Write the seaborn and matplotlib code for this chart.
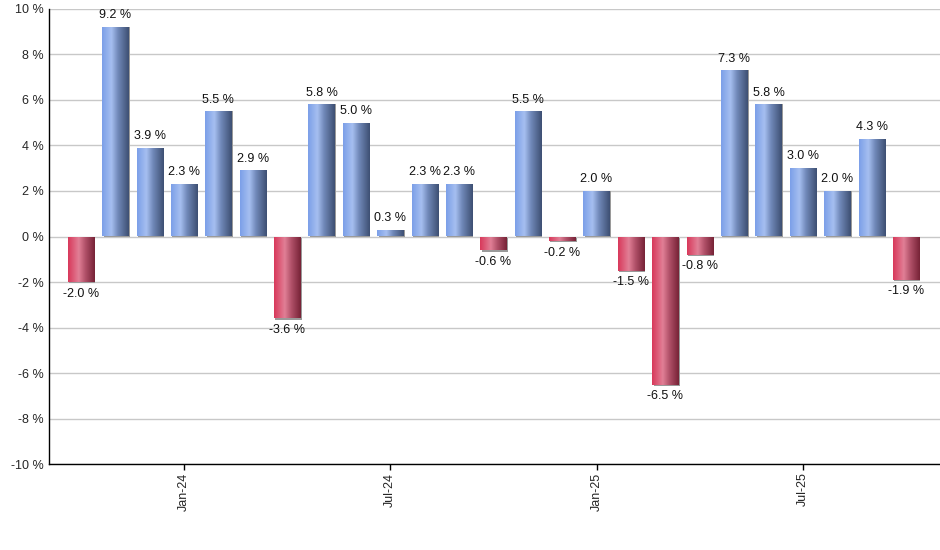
import numpy as np
import pandas as pd
import matplotlib
matplotlib.use("Agg")
import matplotlib.pyplot as plt
import seaborn as sns
from matplotlib.colors import LinearSegmentedColormap
from matplotlib.patches import Rectangle

months = ["Oct-23", "Nov-23", "Dec-23", "Jan-24", "Feb-24", "Mar-24", "Apr-24", "May-24",
          "Jun-24", "Jul-24", "Aug-24", "Sep-24", "Oct-24", "Nov-24", "Dec-24", "Jan-25",
          "Feb-25", "Mar-25", "Apr-25", "May-25", "Jun-25", "Jul-25", "Aug-25", "Sep-25",
          "Oct-25"]
values = [-2.0, 9.2, 3.9, 2.3, 5.5, 2.9, -3.6, 5.8, 5.0, 0.3, 2.3, 2.3, -0.6, 5.5, -0.2,
          2.0, -1.5, -6.5, -0.8, 7.3, 5.8, 3.0, 2.0, 4.3, -1.9]
shown_ticks = ["Jan-24", "Jul-24", "Jan-25", "Jul-25"]
yticks = [-10, -8, -6, -4, -2, 0, 2, 4, 6, 8, 10]

df = pd.DataFrame({"month": months, "value": values})

sns.set_style("white")
plt.rcParams["font.family"] = ["Liberation Sans", "DejaVu Sans"]

fig = plt.figure(figsize=(9.4, 5.5), dpi=100)
ax = fig.add_axes([0.052, 0.156, 0.948, 0.828])

sns.barplot(data=df, x="month", y="value", order=months, ax=ax, width=0.76,
            color="#7fa3ec", saturation=1, errorbar=None, zorder=3)

blue_cmap = LinearSegmentedColormap.from_list(
    "b", [(0, "#7b9fe8"), (0.35, "#a6bff0"), (0.6, "#7088b8"), (1, "#3d4f72")])
red_cmap = LinearSegmentedColormap.from_list(
    "r", [(0, "#d8385a"), (0.4, "#e17f96"), (0.65, "#b05068"), (1, "#762236")])
grad = np.linspace(0, 1, 256).reshape(1, -1)

ax.set_ylim(-10, 10)
ax.set_xlim(-0.93, 24.99)

for patch, v in zip(ax.patches, values):
    x0, y0 = patch.get_x(), patch.get_y()
    w, h = patch.get_width(), patch.get_height()
    ylo, yhi = min(y0, y0 + h), max(y0, y0 + h)
    patch.set_facecolor("none")
    patch.set_edgecolor("none")
    sh = Rectangle((x0 + 0.04, ylo - 0.06 if v < 0 else ylo), w, yhi - ylo,
                   facecolor="#9a9a9a", edgecolor="none", zorder=2.5)
    ax.add_patch(sh)
    cmap = blue_cmap if v >= 0 else red_cmap
    im = ax.imshow(grad, cmap=cmap, aspect="auto", extent=(x0, x0 + w, ylo, yhi),
                   zorder=3, interpolation="bilinear")
    im.set_clip_path(patch)
    txt = f"{v:.1f} %"
    if v >= 0:
        ax.text(x0 + w / 2, v + 0.25, txt, ha="center", va="bottom", fontsize=9,
                color="#111111", zorder=4)
    else:
        ax.text(x0 + w / 2, v - 0.25, txt, ha="center", va="top", fontsize=9,
                color="#111111", zorder=4)

ax.set_ylim(-10, 10)
ax.set_xlim(-0.93, 24.99)
ax.set_yticks(yticks)
ax.set_yticklabels([f"{t} %" for t in yticks], fontsize=9)
tick_pos = [months.index(m) for m in shown_ticks]
ax.set_xticks(tick_pos)
ax.set_xticklabels(shown_ticks, rotation=90, fontsize=9)
ax.set_xlabel("")
ax.set_ylabel("")
ax.yaxis.grid(True, color="#c8c8c8", linewidth=1, zorder=0)
ax.set_axisbelow(True)
for s in ["top", "right"]:
    ax.spines[s].set_visible(False)
for s in ["left", "bottom"]:
    ax.spines[s].set_color("black")
    ax.spines[s].set_linewidth(1)
ax.tick_params(axis="x", length=4, width=1, color="black", bottom=True, pad=2)
ax.tick_params(axis="y", length=0, pad=4)

fig.savefig("out.png", dpi=100)
